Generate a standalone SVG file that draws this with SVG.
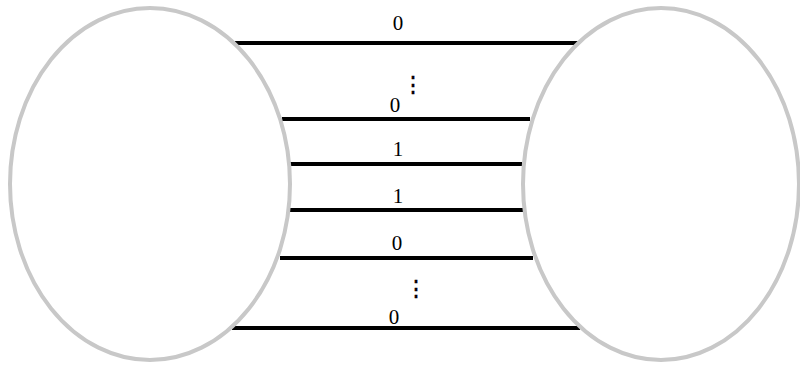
<svg xmlns="http://www.w3.org/2000/svg" width="800" height="365" viewBox="0 0 800 365">
<style>
.node{fill:#fff;stroke:#c8c8c8;stroke-width:4}
.wire{stroke:#000;stroke-width:4;fill:none}
.lbl{font-family:"Liberation Serif","DejaVu Serif",serif;font-size:21px;fill:#000;text-anchor:middle}
.dots{font-family:"Liberation Serif","DejaVu Serif",serif;font-size:22px;fill:#000;text-anchor:middle;stroke:#000;stroke-width:0.4}
</style>
<rect width="800" height="365" fill="#fff"/>
<g id="connectors">
<line class="wire" x1="235" y1="43" x2="578" y2="43"/>
<line class="wire" x1="282" y1="119" x2="530" y2="119"/>
<line class="wire" x1="290" y1="164" x2="522" y2="164"/>
<line class="wire" x1="290" y1="210" x2="523" y2="210"/>
<line class="wire" x1="280" y1="258" x2="533" y2="258"/>
<line class="wire" x1="232" y1="328" x2="580" y2="328"/>
<text class="lbl" x="398" y="30">0</text>
<text class="lbl" x="395" y="112">0</text>
<text class="dots" x="413" y="92">⋮</text>
<text class="lbl" x="398" y="156">1</text>
<text class="lbl" x="398" y="203">1</text>
<text class="lbl" x="397" y="250">0</text>
<text class="dots" x="416" y="296">⋮</text>
<text class="lbl" x="394" y="324">0</text>
</g>
<g id="left">
<ellipse class="node" cx="150" cy="184" rx="140" ry="176"/>
</g>
<g id="right">
<ellipse class="node" cx="661" cy="184" rx="138" ry="176"/>
</g>
</svg>
